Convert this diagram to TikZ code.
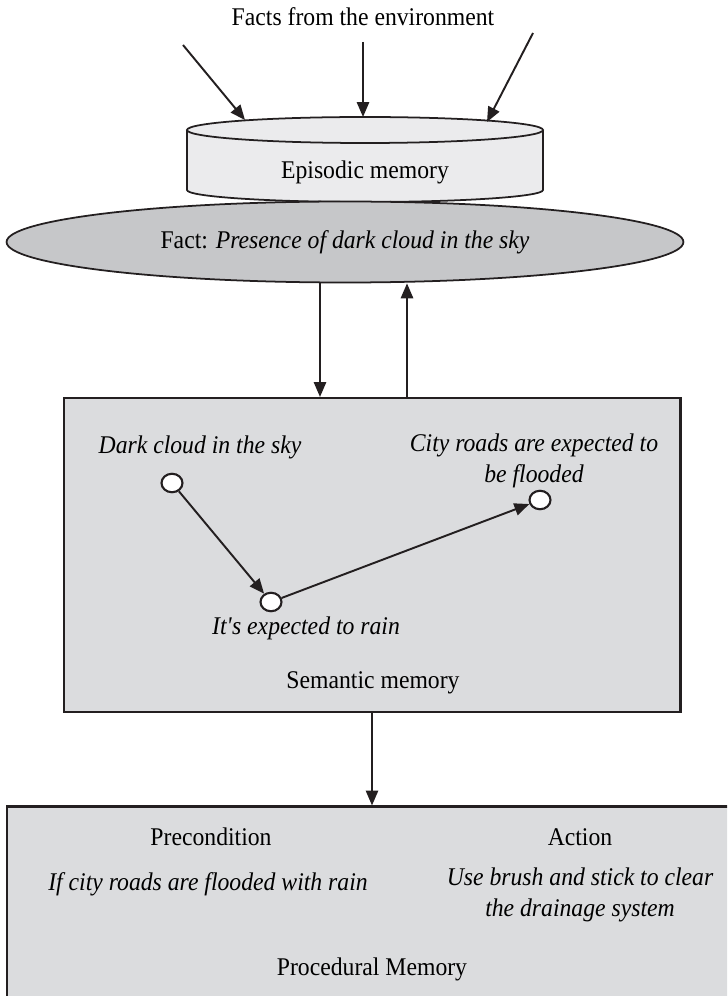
\documentclass[tikz,border=0pt]{standalone}
\usepackage{fontspec}
\setmainfont{Liberation Serif}[FakeStretch=0.93]
\usepackage{tikz}
\usetikzlibrary{positioning,arrows.meta,shapes,calc}
\definecolor{lineDark}{HTML}{231F20}
\definecolor{episodicFill}{HTML}{EBEBED}
\definecolor{factFill}{HTML}{C6C7C9}
\definecolor{memFill}{HTML}{DBDCDE}

\begin{document}
\begin{tikzpicture}[x=0.02cm,y=0.02cm,font=\fontsize{14.5}{17.5}\selectfont,
      arr/.style={draw=lineDark,line width=1.1pt,-{Triangle[length=8.5pt,width=7pt]}},
      membox/.style={draw=lineDark,line width=1.2pt,fill=memFill,rectangle},
      dot/.style={draw=lineDark,line width=1.2pt,fill=white,ellipse,inner sep=0pt,minimum width=0.42cm,minimum height=0.37cm},
      txt/.style={inner sep=1pt,font=\fontsize{14.5}{17.5}\selectfont\itshape}]
    \useasboundingbox (0,0) rectangle (727,-996);
    \clip (0,0) rectangle (727,-996);
    \node (facts) at (363,-17) {Facts from the environment};
    \fill[episodicFill] (187,-130) -- (187,-190) arc[start angle=180,end angle=360,x radius=178,y radius=12]
      -- (543,-130) arc[start angle=0,end angle=180,x radius=178,y radius=13] -- cycle;
    \draw[lineDark,line width=1pt] (187,-130) -- (187,-190) arc[start angle=180,end angle=360,x radius=178,y radius=12] -- (543,-130);
    \draw[lineDark,line width=1pt] (365,-130) ellipse[x radius=178,y radius=13];
    \node (episodic) at (365,-172) {Episodic memory};
    \coordinate (f1) at (183,-45);
    \coordinate (f2) at (363,-42);
    \coordinate (f3) at (533,-33);
    \coordinate (r1) at (245,-120);
    \coordinate (r2) at (363,-117);
    \coordinate (r3) at (487,-122);
    \foreach \i in {1,2,3}{\draw[arr] (f\i) -- (r\i);}
    \node[draw=lineDark,line width=1pt,fill=factFill,ellipse,minimum width=13.54cm,minimum height=1.62cm] (fact) at (345,-242) {};
    \node at (fact.center) {Fact: \textit{Presence of dark cloud in the sky}};
    \node[membox,minimum width=12.34cm,minimum height=6.28cm] (semantic) at (372,-555) {};
    \draw[arr] ($(fact.south)+(-25,0)$) -- ($(semantic.north)+(-52,0)$);
    \draw[arr] ($(semantic.north)+(35,0)$) -- ($(fact.south)+(62,0)$);
    \node[dot] (cloud) at (172,-483) {};
    \node[dot] (rain) at (271,-602) {};
    \node[dot] (flood) at (540,-500) {};
    \node[txt] (cloudtxt) at (200,-447) {Dark cloud in the sky};
    \node[txt,align=center] (floodtxt) at (534,-461) {City roads are expected to\\be flooded};
    \node[txt] (raintxt) at (306,-628) {It\textquotesingle s expected to rain};
    \draw[arr] (cloud) -- (rain);
    \draw[arr] (rain) -- (flood);
    \node (semlabel) at (373,-683) {Semantic memory};
    \node[membox,minimum width=14.76cm,minimum height=4.06cm] (procedural) at (376,-908) {};
    \draw[arr] (semantic.south) -- (semantic.south |- procedural.north);
    \node (pre) at (211,-837) {Precondition};
    \node[txt] (pretxt) at (208,-884) {If city roads are flooded with rain};
    \node (act) at (580,-837) {Action};
    \node[txt,align=center] (acttxt) at (580,-895) {Use brush and stick to clear\\the drainage system};
    \node (proclabel) at (372,-969) {Procedural Memory};
  \end{tikzpicture}
\end{document}
